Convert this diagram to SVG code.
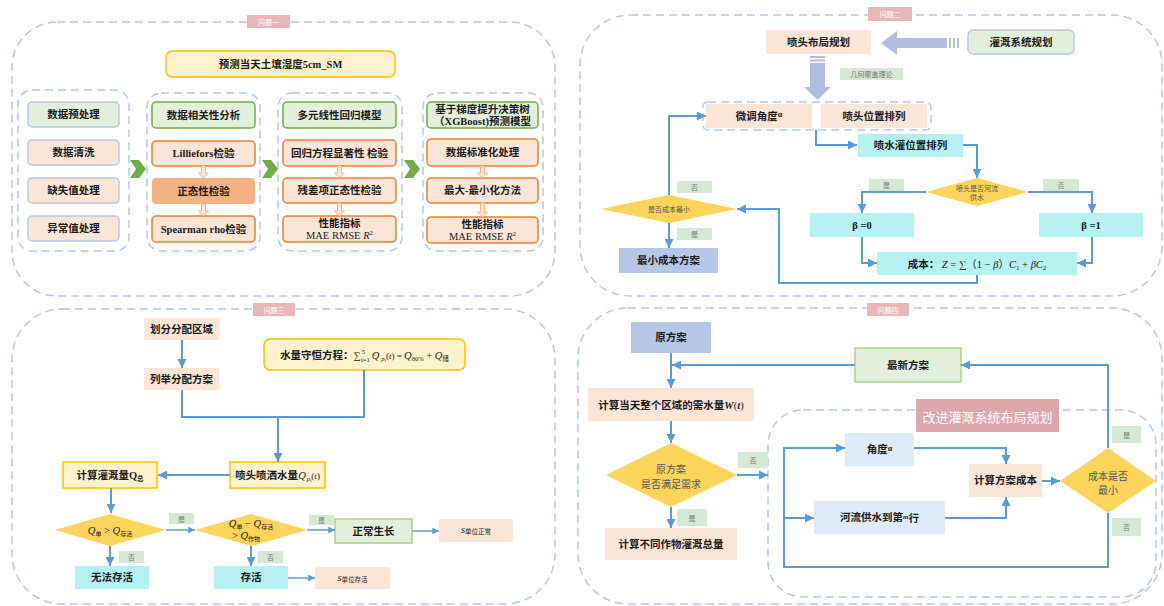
<svg xmlns="http://www.w3.org/2000/svg" width="1164" height="606" viewBox="0 0 1164 606">
<defs>
<style>
.grp{fill:none;stroke:#b4c7e7;stroke-width:1.5;stroke-dasharray:8 5}
.tag{fill:#e8b7bc}
.tagt{font-family:"Noto Sans CJK SC",sans-serif;font-size:7px;fill:#fff;text-anchor:middle;dominant-baseline:central}
.t{font-family:"Liberation Serif","Noto Sans CJK SC",serif;font-weight:bold;font-size:10.5px;fill:#1a1a1a;text-anchor:middle;dominant-baseline:central}
.n{font-family:"Liberation Serif","Noto Sans CJK SC",serif;font-size:10.5px;fill:#1a1a1a;text-anchor:middle}
.pe{fill:#fbe5d6}
.peo{fill:#fbe5d6;stroke:#ed7d31;stroke-width:1.5}
.or{fill:#f4b183}
.gr{fill:#e2efda;stroke:#70ad47;stroke-width:1.5}
.grl{fill:#e2efda;stroke:#a9d18e;stroke-width:1.5}
.grb{fill:#e2efda;stroke:#b4c7e7;stroke-width:1.5}
.peb{fill:#fbe5d6;stroke:#b4c7e7;stroke-width:1.5}
.cy{fill:#b5f1f0}
.yl{fill:#fff2cc;stroke:#ffc000;stroke-width:1.5}
.lav{fill:#b4c7e7}
.lb{fill:#deebf7}
.dia{fill:#fcd35b}
.lab{fill:#d5e8d4}
.labt{font-family:"Noto Sans CJK SC",sans-serif;font-size:7px;fill:#777;text-anchor:middle;dominant-baseline:central}
.dt{font-family:"Noto Sans CJK SC",sans-serif;fill:#555;text-anchor:middle;dominant-baseline:central}
.hol{fill:#fbe5d6;stroke:#f4b183;stroke-width:1}
.chev{fill:#70ad47}
.big{fill:#aebde0}
.conn path{fill:none;stroke:#5b9bd5;stroke-width:2}
.conn path.thin{stroke-width:1.5}
.m{font-family:"Liberation Serif",serif;font-style:italic}
</style>
<marker id="ar" viewBox="0 0 10 10" refX="10" refY="5" markerWidth="4.5" markerHeight="4.5" orient="auto"><path d="M0,0 L10,5 L0,10 z" fill="#5b9bd5"/></marker>
</defs>
<rect width="1164" height="606" fill="#ffffff"/>

<!-- ===== Problem 1 ===== -->
<g id="q1">
<rect class="grp" x="12" y="22" width="543" height="274" rx="45"/>
<rect class="tag" x="247" y="15" width="43" height="13"/>
<text class="tagt" x="268.5" y="21.5">问题一</text>
</g>
<g id="q1-title"><rect class="yl" x="166" y="51" width="229" height="26" rx="6"/><text class="t" x="280.5" y="64" font-size="11.5">预测当天土壤湿度5cm_SM</text></g>

<g id="q1-col1">
<rect class="grp" x="18" y="90" width="111" height="161" rx="14"/>
<rect class="grb" x="28" y="102" width="91" height="25" rx="4"/><text class="t" x="73.5" y="114.5">数据预处理</text>
<rect class="peb" x="28" y="140" width="91" height="25" rx="4"/><text class="t" x="73.5" y="152.5">数据清洗</text>
<rect class="peb" x="28" y="178" width="91" height="25" rx="4"/><text class="t" x="73.5" y="190.5">缺失值处理</text>
<rect class="peb" x="28" y="216" width="91" height="25" rx="4"/><text class="t" x="73.5" y="228.5">异常值处理</text>
</g>
<g id="q1-col2">
<rect class="grp" x="147" y="93" width="113" height="158" rx="14"/>
<rect class="gr" x="152" y="102" width="103" height="26" rx="4"/><text class="t" x="203.5" y="115">数据相关性分析</text>
<rect class="peo" x="152" y="141" width="103" height="25" rx="4"/><text class="t" x="203.5" y="153.5">Lilliefors检验</text>
<rect class="or" x="152" y="178" width="103" height="26" rx="4"/><text class="t" x="203.5" y="191">正态性检验</text>
<rect class="peo" x="152" y="216" width="103" height="26" rx="4"/><text class="t" x="203.5" y="229">Spearman rho检验</text>
<path class="hol" d="M201.5,166 V173 H198.5 L203.5,178 L208.5,173 H205.5 V166 Z"/>
<path class="hol" d="M201.5,204 V211 H198.5 L203.5,216 L208.5,211 H205.5 V204 Z"/>
</g>
<g id="q1-col3">
<rect class="grp" x="278" y="93" width="124" height="158" rx="14"/>
<rect class="gr" x="283" y="102" width="113" height="26" rx="4"/><text class="t" x="339.5" y="115">多元线性回归模型</text>
<rect class="peo" x="283" y="140" width="113" height="26" rx="4"/><text class="t" x="339.5" y="153">回归方程显著性 检验</text>
<rect class="peo" x="283" y="178" width="113" height="25" rx="4"/><text class="t" x="339.5" y="190.5">残差项正态性检验</text>
<rect class="peo" x="283" y="216" width="113" height="26" rx="4"/><text class="t" x="339.5" y="223">性能指标</text>
<text class="n" x="339.5" y="239">MAE RMSE <tspan class="m">R</tspan><tspan font-size="7" dy="-4">2</tspan></text>
<path class="hol" d="M337.5,166 V173 H334.5 L339.5,178 L344.5,173 H341.5 V166 Z"/>
<path class="hol" d="M337.5,203 V211 H334.5 L339.5,216 L344.5,211 H341.5 V203 Z"/>
</g>
<g id="q1-col4">
<rect class="grp" x="423" y="93" width="120" height="158" rx="14"/>
<rect class="gr" x="427" y="102" width="111" height="26" rx="4"/>
<text class="t" x="482.5" y="109">基于梯度提升决策树</text>
<text class="t" x="482.5" y="121">（XGBoost)预测模型</text>
<rect class="peo" x="427" y="139" width="111" height="27" rx="4"/><text class="t" x="482.5" y="152.5">数据标准化处理</text>
<rect class="peo" x="427" y="178" width="111" height="25" rx="4"/><text class="t" x="482.5" y="190.5">最大-最小化方法</text>
<rect class="peo" x="427" y="217" width="111" height="26" rx="4"/><text class="t" x="482.5" y="224">性能指标</text>
<text class="n" x="482.5" y="240">MAE RMSE <tspan class="m">R</tspan><tspan font-size="7" dy="-4">2</tspan></text>
<path class="hol" d="M480.5,166 V173 H477.5 L482.5,178 L487.5,173 H484.5 V166 Z"/>
<path class="hol" d="M480.5,203 V212 H477.5 L482.5,217 L487.5,212 H484.5 V203 Z"/>
</g>
<g id="q1-chevrons">
<polygon class="chev" points="130,160 139,160 146,169 139,178 130,178 136,169"/>
<polygon class="chev" points="262,160 271,160 278,169 271,178 262,178 268,169"/>
<polygon class="chev" points="404,160 413,160 420,169 413,178 404,178 410,169"/>
</g>

<!-- ===== Problem 2 ===== -->
<g id="q2">
<rect class="grp" x="580" y="15" width="582" height="281" rx="50"/>
<rect class="tag" x="868" y="7" width="44" height="14"/>
<text class="tagt" x="890" y="14">问题二</text>
</g>
<g id="q2-layout"><rect class="pe" x="766" y="30" width="105" height="24"/><text class="t" x="818.5" y="42">喷头布局规划</text></g>
<g id="q2-system"><rect class="grb" x="968" y="30" width="106" height="24" rx="5"/><text class="t" x="1021" y="42">灌溉系统规划</text></g>
<g id="q2-bigarrows">
<polygon class="big" points="881,43 897,31 897,38 947,38 947,48 897,48 897,55"/>
<rect class="big" x="949" y="38" width="2" height="10"/>
<rect class="big" x="953" y="38" width="2" height="10"/>
<rect class="big" x="957" y="38" width="2" height="10"/>
<polygon class="big" points="810,63 825,63 825,87 831,87 817.5,100 804,87 810,87"/>
<rect class="big" x="810" y="56" width="15" height="2"/>
<rect class="big" x="810" y="59.5" width="15" height="2"/>
</g>
<g id="q2-theory"><rect class="lab" x="840" y="68" width="63" height="12"/><text class="labt" x="871.5" y="74">几何覆盖理论</text></g>
<g id="q2-pair">
<rect class="grp" x="703" y="102" width="228" height="28" rx="5" stroke-dasharray="6 4"/>
<rect class="pe" x="706" y="104" width="106" height="24"/><text class="t" x="759" y="116">微调角度<tspan font-size="8" dy="-2">α</tspan></text>
<rect class="pe" x="821" y="104" width="106" height="24"/><text class="t" x="874" y="116">喷头位置排列</text>
</g>
<g id="q2-spray"><rect class="cy" x="858" y="134" width="105" height="23"/><text class="t" x="910.5" y="145.5">喷水灌位置排列</text></g>
<g id="q2-dia1"><polygon class="dia" points="977,178 1028,192 977,206 926,192"/><text class="dt" font-size="7" x="977" y="188">喷头是否河流</text><text class="dt" font-size="7" x="977" y="197">供水</text></g>
<g id="q2-b0"><rect class="cy" x="810" y="213" width="104" height="24"/><text class="t" x="862" y="225">β =0</text></g>
<g id="q2-b1"><rect class="cy" x="1039" y="213" width="104" height="24"/><text class="t" x="1091" y="225">β =1</text></g>
<g id="q2-cost"><rect class="cy" x="877" y="252" width="200" height="23"/>
<text class="n" x="977" y="267.5" font-weight="bold"><tspan font-weight="bold">成本：</tspan><tspan class="m" font-weight="normal"> Z</tspan><tspan font-weight="normal"> = ∑（1 − </tspan><tspan class="m" font-weight="normal">β</tspan><tspan font-weight="normal">）</tspan><tspan class="m" font-weight="normal">C</tspan><tspan font-weight="normal" font-size="7" dy="2">1</tspan><tspan font-weight="normal" dy="-2"> + </tspan><tspan class="m" font-weight="normal">βC</tspan><tspan font-weight="normal" font-size="7" dy="2">2</tspan></text></g>
<g id="q2-dia2"><polygon class="dia" points="669,195 737,209 669,223 601,209"/><text class="dt" font-size="7" x="669" y="209">是否成本最小</text></g>
<g id="q2-min"><rect class="lav" x="619" y="248" width="99" height="25"/><text class="t" x="668.5" y="260.5">最小成本方案</text></g>
<g id="q2-labels">
<rect class="lab" x="869" y="179" width="35" height="12"/><text class="labt" x="886.5" y="185">是</text>
<rect class="lab" x="1043" y="179" width="36" height="12"/><text class="labt" x="1061" y="185">否</text>
<rect class="lab" x="677" y="181" width="35" height="12"/><text class="labt" x="694.5" y="187">否</text>
<rect class="lab" x="677" y="228" width="35" height="12"/><text class="labt" x="694.5" y="234">是</text>
</g>

<!-- ===== Problem 3 ===== -->
<g id="q3">
<rect class="grp" x="12" y="309" width="543" height="295" rx="50"/>
<rect class="tag" x="253" y="303" width="42" height="13"/>
<text class="tagt" x="274" y="309.5">问题三</text>
</g>
<g id="q3-divide"><rect class="pe" x="144" y="318" width="75" height="22"/><text class="t" x="181.5" y="329">划分分配区域</text></g>
<g id="q3-list"><rect class="pe" x="144" y="368" width="75" height="22"/><text class="t" x="181.5" y="379">列举分配方案</text></g>
<g id="q3-balance"><rect class="yl" x="264" y="339" width="201" height="31" rx="6"/>
<text class="n" x="364.5" y="358.5"><tspan font-weight="bold">水量守恒方程：</tspan><tspan font-size="10">∑</tspan><tspan font-size="6.5" dx="1" dy="-5">5</tspan><tspan font-size="6.5" dx="-4" dy="8">i=1</tspan><tspan class="m" dx="2" dy="-3">Q</tspan><tspan class="m" font-size="6.5" dx="2" dy="2">p</tspan><tspan font-size="5" dy="1">i</tspan><tspan font-size="9" dy="-3">(</tspan><tspan class="m" font-size="9">t</tspan><tspan font-size="9">) = </tspan><tspan class="m">Q</tspan><tspan font-size="6.5" dy="2">80%</tspan><tspan dy="-2"> + </tspan><tspan class="m">Q</tspan><tspan font-size="6.5" dy="2">储</tspan></text></g>
<g id="q3-nozzle"><rect class="yl" x="230" y="462" width="95" height="26"/>
<text class="n" x="277.5" y="479"><tspan font-weight="bold">喷头喷洒水量</tspan><tspan class="m">Q</tspan><tspan class="m" font-size="6.5" dx="1" dy="2">p</tspan><tspan font-size="5" dy="1">i</tspan><tspan font-size="9" dy="-3">(</tspan><tspan class="m" font-size="9">t</tspan><tspan font-size="9">)</tspan></text></g>
<g id="q3-irrig"><rect class="yl" x="63" y="462" width="94" height="26"/>
<text class="n" x="110" y="479"><tspan font-weight="bold">计算灌溉量Q</tspan><tspan font-size="6.5" font-weight="bold" dy="2">总</tspan></text></g>
<g id="q3-dia1"><polygon class="dia" points="110,514 166,530 110,546 55,530"/>
<text class="n" x="110" y="534" fill="#444"><tspan class="m">Q</tspan><tspan font-size="6" dy="2">单</tspan><tspan dy="-2"> &gt; </tspan><tspan class="m">Q</tspan><tspan font-size="6" dy="2">存活</tspan></text></g>
<g id="q3-dia2"><polygon class="dia" points="251,514 307,530 251,546 195,530"/>
<text class="n" x="251" y="527" fill="#444"><tspan class="m">Q</tspan><tspan font-size="6" dy="2">单</tspan><tspan dy="-2"> − </tspan><tspan class="m">Q</tspan><tspan font-size="6" dy="2">存活</tspan></text>
<text class="n" x="246" y="539" fill="#444">&gt; <tspan class="m">Q</tspan><tspan font-size="6" dy="2">作物</tspan></text></g>
<g id="q3-dead"><rect class="cy" x="75" y="566" width="74" height="23"/><text class="t" x="112" y="577.5">无法存活</text></g>
<g id="q3-alive"><rect class="cy" x="214" y="566" width="74" height="23"/><text class="t" x="251" y="577.5">存活</text></g>
<g id="q3-salive"><rect class="pe" x="315" y="567" width="75" height="22"/><text class="n" x="352.5" y="581"><tspan class="m">s</tspan><tspan font-size="6.5" dy="1">单位存活</tspan></text></g>
<g id="q3-normal"><rect class="grl" x="335" y="519" width="77" height="24"/><text class="t" x="373.5" y="531" font-size="12">正常生长</text></g>
<g id="q3-snormal"><rect class="pe" x="439" y="519" width="74" height="23"/><text class="n" x="476" y="533"><tspan class="m">s</tspan><tspan font-size="6.5" dy="1">单位正常</tspan></text></g>
<g id="q3-labels">
<rect class="lab" x="169" y="513" width="25" height="11"/><text class="labt" x="181.5" y="518.5">是</text>
<rect class="lab" x="119" y="551" width="25" height="12"/><text class="labt" x="131.5" y="557">否</text>
<rect class="lab" x="258" y="551" width="25" height="12"/><text class="labt" x="270.5" y="557">否</text>
<rect class="lab" x="309" y="515" width="25" height="10"/><text class="labt" x="321.5" y="520">是</text>
</g>

<!-- ===== Problem 4 ===== -->
<g id="q4">
<rect class="grp" x="578" y="308" width="584" height="296" rx="50"/>
<rect class="tag" x="867" y="303" width="42" height="13"/>
<text class="tagt" x="888" y="309.5">问题四</text>
</g>
<g id="q4-inner">
<rect class="grp" x="768" y="410" width="388" height="187" rx="35"/>
<rect fill="#dea5ad" x="916" y="399" width="143" height="33"/>
<text x="987.5" y="416" font-family="Noto Sans CJK SC,sans-serif" font-size="13" fill="#fff" text-anchor="middle" dominant-baseline="central">改进灌溉系统布局规划</text>
</g>
<g id="q4-orig"><rect class="lav" x="631" y="322" width="80" height="31"/><text class="t" x="671" y="337.5">原方案</text></g>
<g id="q4-latest"><rect class="grl" x="855" y="348" width="106" height="34"/><text class="t" x="908" y="365">最新方案</text></g>
<g id="q4-demand"><rect class="pe" x="588" y="388" width="166" height="33"/>
<text class="n" x="671" y="408.5"><tspan font-weight="bold">计算当天整个区域的需水量</tspan><tspan class="m" font-weight="bold">W</tspan><tspan>(</tspan><tspan class="m" font-weight="bold">t</tspan><tspan>)</tspan></text></g>
<g id="q4-dia1"><polygon class="dia" points="671,443 737,475 671,507 606,475"/><text class="dt" font-size="10" x="671" y="468">原方案</text><text class="dt" font-size="10" x="671" y="483">是否满足需求</text></g>
<g id="q4-total"><rect class="pe" x="605" y="528" width="132" height="32"/><text class="t" x="671" y="544">计算不同作物灌溉总量</text></g>
<g id="q4-angle"><rect class="lb" x="845" y="433" width="69" height="33"/><text class="t" x="879.5" y="449.5">角度<tspan font-size="8" dy="-2">α</tspan></text></g>
<g id="q4-river"><rect class="lb" x="814" y="501" width="131" height="33"/><text class="t" x="879.5" y="517.5">河流供水到第<tspan class="m" font-size="7" dy="-1">m</tspan><tspan dy="1">行</tspan></text></g>
<g id="q4-cost"><rect class="pe" x="969" y="464" width="73" height="33"/><text class="t" x="1005.5" y="480.5">计算方案成本</text></g>
<g id="q4-dia2"><polygon class="dia" points="1108,448 1156,481 1108,513 1060,481"/><text class="dt" font-size="10" x="1108" y="475">成本是否</text><text class="dt" font-size="10" x="1108" y="489">最小</text></g>
<g id="q4-labels">
<rect class="lab" x="677" y="509" width="30" height="17"/><text class="labt" x="692" y="517.5">是</text>
<rect class="lab" x="738" y="452" width="30" height="16"/><text class="labt" x="753" y="460">否</text>
<rect class="lab" x="1112" y="426" width="29" height="17"/><text class="labt" x="1126.5" y="434.5">是</text>
<rect class="lab" x="1112" y="518" width="29" height="18"/><text class="labt" x="1126.5" y="527">否</text>
</g>

<!-- ===== Connectors ===== -->
<g id="connectors" class="conn">
<path d="M816,130 V145 H857" marker-end="url(#ar)"/>
<path d="M963,145 H977 V178" marker-end="url(#ar)"/>
<path d="M926,192 H862 V213" marker-end="url(#ar)"/>
<path d="M1028,192 H1092 V213" marker-end="url(#ar)"/>
<path d="M862,237 V263 H877" marker-end="url(#ar)"/>
<path d="M1092,237 V263 H1077" marker-end="url(#ar)"/>
<path d="M977,275 V283 H779 V209 H737" marker-end="url(#ar)"/>
<path d="M669,195 V116 H706" marker-end="url(#ar)"/>
<path d="M669,223 V248" marker-end="url(#ar)"/>

<path d="M182,340 V368" marker-end="url(#ar)"/>
<path d="M182,390 V417 H364 V370"/>
<path d="M278,417 V462" marker-end="url(#ar)"/>
<path d="M230,475 H158" marker-end="url(#ar)"/>
<path d="M111,488 V513" marker-end="url(#ar)"/>
<path class="thin" d="M166,530 H195" marker-end="url(#ar)"/>
<path d="M110,546 V566" marker-end="url(#ar)"/>
<path d="M251,546 V566" marker-end="url(#ar)"/>
<path class="thin" d="M288,578 H315" marker-end="url(#ar)"/>
<path class="thin" d="M307,530 H335" marker-end="url(#ar)"/>
<path class="thin" d="M412,531 H439" marker-end="url(#ar)"/>

<path d="M671,353 V388" marker-end="url(#ar)"/>
<path d="M855,365 H672" marker-end="url(#ar)"/>
<path d="M671,421 V443" marker-end="url(#ar)"/>
<path d="M671,507 V528" marker-end="url(#ar)"/>
<path d="M737,475 H768" marker-end="url(#ar)"/>
<path d="M1108,448 V365 H961" marker-end="url(#ar)"/>
<path d="M1108,513 V567 H784 V448 H845" marker-end="url(#ar)"/>
<path d="M784,518 H814" marker-end="url(#ar)"/>
<path d="M914,448 H1006 V464" marker-end="url(#ar)"/>
<path d="M945,518 H1006 V497" marker-end="url(#ar)"/>
<path d="M1042,481 H1060" marker-end="url(#ar)"/>
</g>
</svg>
